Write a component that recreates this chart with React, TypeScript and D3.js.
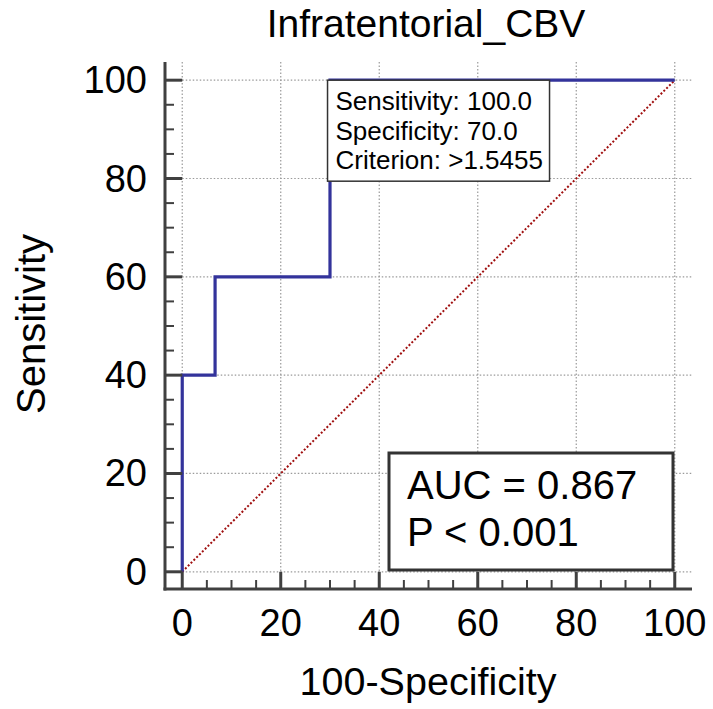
import React from "react";
import * as d3 from "d3";

const rocX = [0, 0, 6.667, 6.667, 30, 30, 100];
const rocY = [0, 40, 40, 60, 60, 100, 100];
const majorTicks = [0, 20, 40, 60, 80, 100];
const minorTicks = [5, 10, 15, 25, 30, 35, 45, 50, 55, 65, 70, 75, 85, 90, 95];
const infoLines = ["Sensitivity: 100.0", "Specificity: 70.0", "Criterion: >1.5455"];
const aucLines = ["AUC = 0.867", "P < 0.001"];
const title = "Infratentorial_CBV";
const xTitle = "100-Specificity";
const yTitle = "Sensitivity";

const W = 713, H = 709;
const FONT = "'Liberation Sans', Arial, sans-serif";

export default function App() {
  const x = d3.scaleLinear().domain([-3.5, 103.5]).range([165, 692]);
  const y = d3.scaleLinear().domain([-3.5, 103.7]).range([589, 62]);
  const line = d3.line<number>().x((d) => x(rocX[d])).y((d) => y(rocY[d]));
  const idx = rocX.map((_, i) => i);
  const axisColor = "#404040";
  const x0 = x(-3.5), y0 = y(-3.5);
  return (
    <svg width={W} height={H} style={{ position: "absolute", left: 0, top: 0, background: "#fff" }} fontFamily={FONT}>
      <rect x={0} y={0} width={W} height={H} fill="#fff" />
      {/* grid */}
      {majorTicks.map((t) => (
        <g key={"g" + t}>
          <line x1={x(t)} x2={x(t)} y1={y(103.7)} y2={y(0)} stroke="#9a9a9a" strokeWidth={1.2} strokeDasharray="1.5,2" />
          <line x1={x(0)} x2={x(103.5)} y1={y(t)} y2={y(t)} stroke="#9a9a9a" strokeWidth={1.2} strokeDasharray="1.5,2" />
        </g>
      ))}
      {/* diagonal */}
      <line x1={x(0)} y1={y(0)} x2={x(100)} y2={y(100)} stroke="#a01010" strokeWidth={2} strokeDasharray="2,2" />
      {/* ROC */}
      <path d={line(idx) || ""} fill="none" stroke="#33339b" strokeWidth={3.2} />
      {/* axes */}
      <line x1={x0} x2={x0} y1={y(103.7)} y2={y0 + 1.5} stroke={axisColor} strokeWidth={3} />
      <line x1={x0 - 1.5} x2={x(103.5)} y1={y0} y2={y0} stroke={axisColor} strokeWidth={3} />
      {majorTicks.map((t) => (
        <g key={"m" + t}>
          <line x1={x0} x2={x(0)} y1={y(t)} y2={y(t)} stroke={axisColor} strokeWidth={3} />
          <line x1={x(t)} x2={x(t)} y1={y0} y2={y(0)} stroke={axisColor} strokeWidth={3} />
          <text x={x0 - 18} y={y(t) + 13} fontSize={38} textAnchor="end" fill="#000">{t}</text>
          <text x={x(t)} y={636} fontSize={38} textAnchor="middle" fill="#000">{t}</text>
        </g>
      ))}
      {minorTicks.map((t) => (
        <g key={"n" + t}>
          <line x1={x0} x2={x0 + 9} y1={y(t)} y2={y(t)} stroke={axisColor} strokeWidth={2} />
          <line x1={x(t)} x2={x(t)} y1={y0} y2={y0 - 9} stroke={axisColor} strokeWidth={2} />
        </g>
      ))}
      {/* info box */}
      <rect x={x(29.5)} y={y(100)} width={222} height={101} fill="#fff" stroke="#333" strokeWidth={1.5} />
      {infoLines.map((s, i) => (
        <text key={s} x={x(29.5) + 8} y={y(100) + 30 + i * 29.5} fontSize={26} fill="#000">{s}</text>
      ))}
      {/* AUC box */}
      <rect x={389} y={453} width={284} height={117} fill="#fff" stroke="#333" strokeWidth={3} />
      {aucLines.map((s, i) => (
        <text key={s} x={407} y={499 + i * 47} fontSize={40} fill="#000">{s}</text>
      ))}
      {/* titles */}
      <text x={426} y={37} fontSize={39} textAnchor="middle" fill="#000">{title}</text>
      <text x={428} y={695} fontSize={39.5} textAnchor="middle" fill="#000">{xTitle}</text>
      <text transform={`translate(45,324) rotate(-90)`} fontSize={40} textAnchor="middle" fill="#000">{yTitle}</text>
    </svg>
  );
}
